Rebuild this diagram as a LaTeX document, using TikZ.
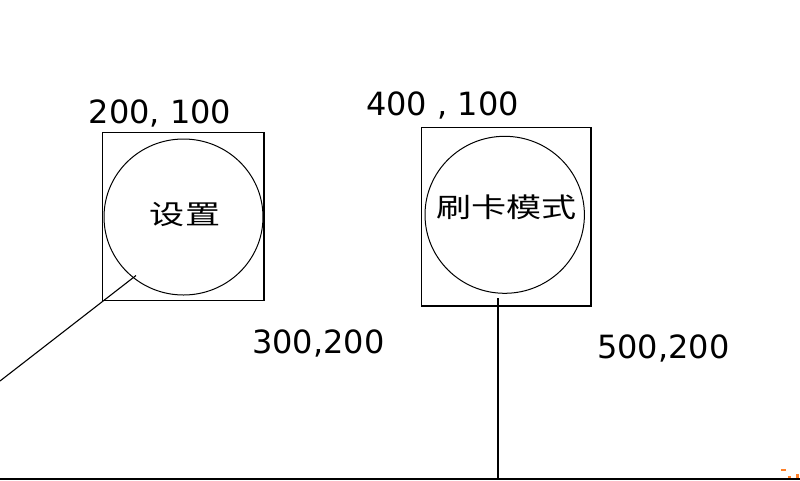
\documentclass[tikz,border=0pt]{standalone}
\usepackage{fontspec}
\usepackage{graphicx}
\setmainfont{DejaVu Sans}
\newfontfamily\cjk{Noto Sans CJK SC}
\usetikzlibrary{shapes.geometric}
\tikzset{
  coordlabel/.style={inner sep=0pt, anchor=base, font=\fontsize{32}{36}\selectfont},
  cjklabel/.style={inner sep=0pt, anchor=base, font=\cjk\fontsize{27}{30}\selectfont},
  frame/.style={draw=black, line width=1.3pt},
  ring/.style={draw=black, line width=1pt},
  wire/.style={draw=black, line width=1.1pt},
  ground/.style={draw=black, line width=2pt},
  speck/.style={fill={rgb,255:red,255;green,128;blue,40}, draw=none}
}
\begin{document}
\begin{tikzpicture}[x=1pt, y=-1pt]
\useasboundingbox (0,0) rectangle (800,480);
% boxes
\draw[frame] (102.5,132.7) rectangle (264,300.3);
\draw[frame] (421.7,127.7) rectangle (591,306);
% circles
\node[ellipse, ring, minimum width=159pt, minimum height=156pt, inner sep=0pt] (c1) at (183.5,217) {};
\node[ellipse, ring, minimum width=159.4pt, minimum height=157pt, inner sep=0pt] (c2) at (504.7,214.8) {};
% texts inside
\node[cjklabel] (t1) at (185,224.7) {\scalebox{1.3}[1]{设置}};
\node[cjklabel] (t2) at (506.7,217.8) {\scalebox{1.3}[1]{刷卡模式}};
% coordinate labels
\node[coordlabel] (l1) at (160,123.3) {200, 100};
\node[coordlabel] (l2) at (442.5,115) {400 , 100};
\node[coordlabel] (l3) at (318.3,353.3) {300,200};
\node[coordlabel] (l4) at (663.3,358.3) {500,200};
% connectors
\coordinate (lfree) at (0,381);
\coordinate (lend) at (136,275.5);
\draw[wire] (lfree) -- (lend);
\coordinate (vtop) at (498,298);
\coordinate (vbot) at (498,478);
\draw[wire] (vtop) -- (vbot);
\coordinate (bl) at (0,478.5);
\coordinate (br) at (800,478.5);
\draw[ground] (bl) -- (br);
% small specks
\fill[speck] (781,469) rectangle (786,470.5);
\fill[speck] (788,476) rectangle (790.5,478);
\fill[speck] (795.5,474) rectangle (798.5,478);
\end{tikzpicture}
\end{document}
